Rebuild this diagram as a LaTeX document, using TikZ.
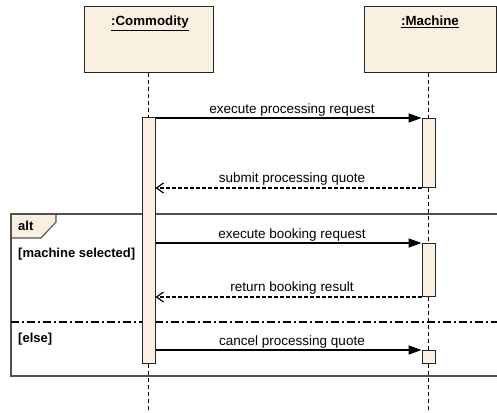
\documentclass[tikz,border=0pt]{standalone}
\usepackage{fontspec}
\setmainfont{Liberation Sans}
\usetikzlibrary{arrows.meta}

\definecolor{boxfill}{HTML}{FAF0E1}
\definecolor{framegray}{HTML}{505050}

\tikzset{
  headbox/.style={draw=black!85, line width=1pt, fill=boxfill, rectangle, inner sep=0pt},
  headlabel/.style={font=\fontsize{13.3}{15}\selectfont\bfseries, anchor=base, inner sep=0pt},
  actbar/.style={draw=black!85, line width=1pt, fill=boxfill, rectangle, inner sep=0pt,
                 minimum width=13pt, anchor=north},
  lifeline/.style={draw=black, line width=1.7pt, dash pattern=on 4pt off 3pt},
  syncmsg/.style={draw=black, line width=1.5pt, -{Triangle[length=13pt,width=9pt]}},
  replymsg/.style={draw=black, line width=1.3pt, dash pattern=on 3.5pt off 2.5pt,
                   -{Straight Barb[length=7pt,width=10pt,line width=1.2pt]}},
  msglabel/.style={font=\fontsize{13.5}{15}\selectfont, anchor=base, inner sep=0pt},
  guardlabel/.style={font=\fontsize{13}{15}\selectfont\bfseries, anchor=base west, inner sep=0pt},
  frameline/.style={draw=framegray, line width=1.8pt},
  separator/.style={draw=black, line width=1.3pt, dash pattern=on 8pt off 3pt on 2pt off 3pt},
}

\begin{document}
\begin{tikzpicture}[x=1pt, y=-1pt]
\useasboundingbox (0,0) rectangle (497,412);
\clip (0,0) rectangle (497,412);

% combined fragment (alt), its right side runs off the page
\coordinate (ftl) at (11,214);
\coordinate (fbr) at (530,376);
\fill[boxfill] (11,214) -- (56,214) -- (56,222) -- (41,238) -- (11,238) -- cycle;
\draw[draw=framegray, line width=1.1pt] (56,214) -- (56,222) -- (41,238) -- (11,238);
\draw[frameline] (ftl) rectangle (fbr);
\node[guardlabel] (altlbl) at (18,230) {alt};
\node[guardlabel] (guard1) at (18,257) {[machine selected]};
\coordinate (sepl) at (11,322);
\coordinate (sepr) at (497,322);
\draw[separator] (sepl) -- (sepr);
\node[guardlabel] (guard2) at (18,342) {[else]};

% lifeline heads
\node[headbox, minimum width=129pt, minimum height=65pt] (com) at (148.5,39.5) {};
\node[headlabel] (comlbl) at (150,26) {\underline{:Commodity}};
\node[headbox, minimum width=132pt, minimum height=65pt] (mac) at (430,39.5) {};
\node[headlabel] (maclbl) at (430,26) {\underline{:Machine}};

% activation bars
\node[actbar, minimum height=246pt] (ca) at (148.5,117) {};
\node[actbar, minimum height=69pt] (ma1) at (428.5,118) {};
\node[actbar, minimum height=53pt] (ma2) at (428.5,243) {};
\node[actbar, minimum height=13pt] (ma3) at (428.5,350) {};

% lifelines
\coordinate (comend) at (148.5,412);
\coordinate (macend) at (428.5,412);
\draw[lifeline] (com.south) -- (ca.north);
\draw[lifeline] (ca.south) -- (comend);
\draw[lifeline] (mac.south -| ma1.north) -- (ma1.north);
\draw[lifeline] (ma1.south) -- (ma2.north);
\draw[lifeline] (ma2.south) -- (ma3.north);
\draw[lifeline] (ma3.south) -- (macend);

% messages
\draw[syncmsg] (ca.east |- ma1.north) -- (ma1.north west);
\node[msglabel] (t1) at (292,113.5) {execute processing request};
\draw[replymsg] (ma1.south west) -- (ca.east |- ma1.south);
\node[msglabel] (t2) at (292,182.5) {submit processing quote};
\draw[syncmsg] (ca.east |- ma2.north) -- (ma2.north west);
\node[msglabel] (t3) at (292,238.5) {execute booking request};
\draw[replymsg] (ma2.south west) -- (ca.east |- ma2.south);
\node[msglabel] (t4) at (292,291.5) {return booking result};
\draw[syncmsg] (ca.east |- ma3.north) -- (ma3.north west);
\node[msglabel] (t5) at (292,345.5) {cancel processing quote};
\end{tikzpicture}
\end{document}
